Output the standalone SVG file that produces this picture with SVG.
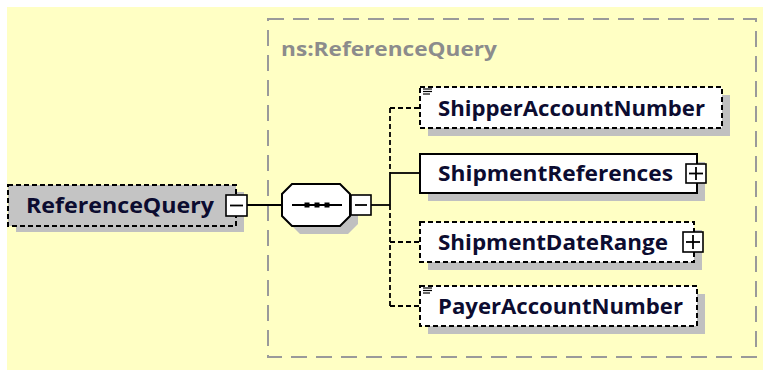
<svg xmlns="http://www.w3.org/2000/svg" width="763" height="370" viewBox="0 0 763 370">
<style>
.bg{fill:#ffffc4}
.grp{fill:none;stroke:#9a9a9a;stroke-width:2;stroke-dasharray:16 9}
.glabel{font-family:"Open Sans","Liberation Sans",sans-serif;font-weight:bold;font-size:20px;fill:#8c8c8c}
.shadow{fill:#c0c0c0}
.box{fill:#ffffff;stroke:#000;stroke-width:2}
.opt{stroke-dasharray:5 3}
.root{fill:#c4c4c4}
.t{font-family:"Open Sans","Liberation Sans",sans-serif;font-weight:bold;font-size:21.5px;fill:#0c0c30}
.ln{fill:none;stroke:#000;stroke-width:1.8}
.dl{fill:none;stroke:#000;stroke-width:1.8;stroke-dasharray:5 3}
.btn{fill:#fff;stroke:#000;stroke-width:1.6}
.ic{stroke:#000;stroke-width:1.2}
</style>
<rect class="bg" x="7" y="7" width="756" height="363"/>
<rect class="grp" x="268" y="19" width="488" height="338"/>
<text class="glabel" x="281" y="56" textLength="216" lengthAdjust="spacingAndGlyphs">ns:ReferenceQuery</text>

<g id="connectors">
<line class="ln" x1="247" y1="205" x2="282" y2="205"/>
<line class="ln" x1="371" y1="205" x2="390" y2="205"/>
<line class="ln" x1="390" y1="173" x2="390" y2="205"/>
<line class="dl" x1="390" y1="108" x2="390" y2="173"/>
<line class="dl" x1="390" y1="205" x2="390" y2="306"/>
<line class="dl" x1="390" y1="108" x2="420" y2="108"/>
<line class="ln" x1="390" y1="173" x2="420" y2="173"/>
<line class="dl" x1="390" y1="242" x2="420" y2="242"/>
<line class="dl" x1="390" y1="306" x2="420" y2="306"/>
</g>

<g id="ReferenceQuery">
<rect class="shadow" x="16" y="192" width="228" height="40"/>
<rect class="box opt root" x="8" y="185" width="228" height="41"/>
<text class="t" x="26" y="213" textLength="188" lengthAdjust="spacingAndGlyphs">ReferenceQuery</text>
<rect class="btn" x="226" y="195" width="21" height="21"/>
<line class="ln" x1="230" y1="205.5" x2="243" y2="205.5"/>
</g>

<g id="sequence">
<polygon class="shadow" points="300,192 348,192 358,202 358,224 348,234 300,234 290,224 290,202"/>
<polygon class="box" points="292,184 340,184 350,194 350,216 340,226 292,226 282,216 282,194"/>
<line class="ln" x1="292" y1="205" x2="342" y2="205"/>
<rect x="304.5" y="202.5" width="5" height="5" fill="#000"/>
<rect x="314.5" y="202.5" width="5" height="5" fill="#000"/>
<rect x="324.5" y="202.5" width="5" height="5" fill="#000"/>
<rect class="btn" x="351" y="195" width="20" height="20"/>
<line class="ln" x1="355" y1="205" x2="367" y2="205"/>
</g>

<g id="ShipperAccountNumber">
<rect class="shadow" x="428" y="95" width="302" height="41"/>
<rect class="box opt" x="420" y="87" width="302" height="41"/>
<line class="ic" x1="423" y1="89" x2="432" y2="89"/>
<line class="ic" x1="423" y1="91.5" x2="432" y2="91.5"/>
<line class="ic" x1="423" y1="94" x2="430" y2="94"/>
<text class="t" x="438" y="116" textLength="267" lengthAdjust="spacingAndGlyphs">ShipperAccountNumber</text>
</g>

<g id="ShipmentReferences">
<rect class="shadow" x="428" y="162" width="277" height="39"/>
<rect class="box" x="420" y="154" width="277" height="39"/>
<text class="t" x="438" y="181" textLength="235" lengthAdjust="spacingAndGlyphs">ShipmentReferences</text>
<rect class="btn" x="686" y="164" width="20" height="19"/>
<line class="ln" x1="689" y1="173.5" x2="703" y2="173.5"/>
<line class="ln" x1="696" y1="167" x2="696" y2="180"/>
</g>

<g id="ShipmentDateRange">
<rect class="shadow" x="428" y="230" width="274" height="40"/>
<rect class="box opt" x="420" y="222" width="274" height="40"/>
<text class="t" x="438" y="250" textLength="230" lengthAdjust="spacingAndGlyphs">ShipmentDateRange</text>
<rect class="btn" x="683" y="232" width="20" height="20"/>
<line class="ln" x1="686" y1="242" x2="700" y2="242"/>
<line class="ln" x1="693" y1="235" x2="693" y2="249"/>
</g>

<g id="PayerAccountNumber">
<rect class="shadow" x="428" y="294" width="277" height="40"/>
<rect class="box opt" x="420" y="286" width="277" height="40"/>
<line class="ic" x1="423" y1="288" x2="432" y2="288"/>
<line class="ic" x1="423" y1="290.5" x2="432" y2="290.5"/>
<line class="ic" x1="423" y1="293" x2="430" y2="293"/>
<text class="t" x="438" y="314" textLength="245" lengthAdjust="spacingAndGlyphs">PayerAccountNumber</text>
</g>
</svg>
